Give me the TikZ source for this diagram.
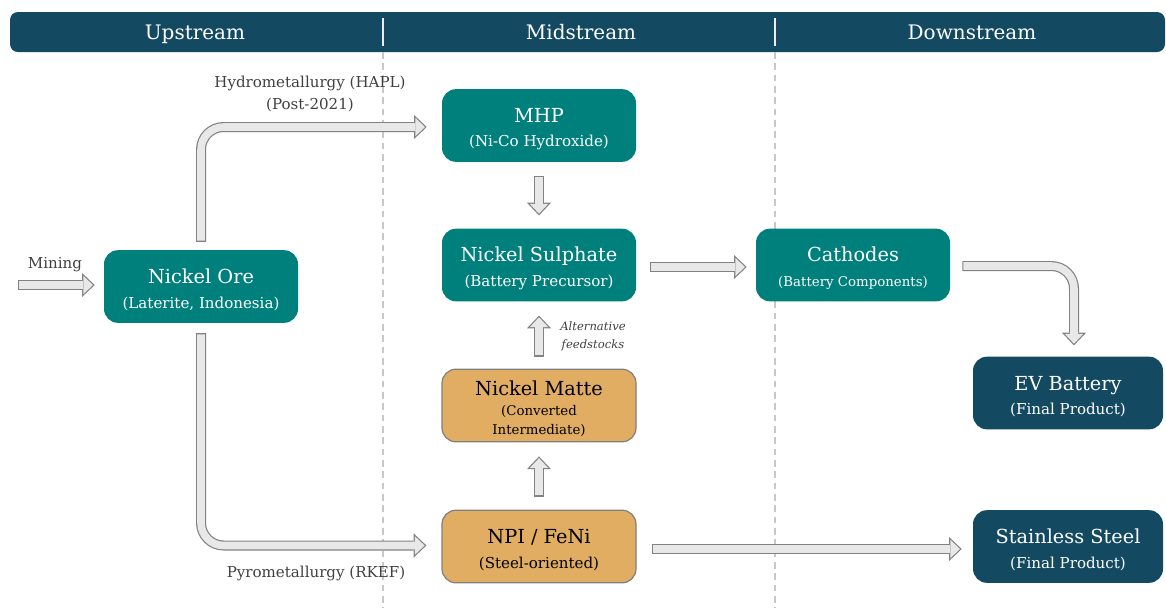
\documentclass[tikz,border=0pt]{standalone}
\usepackage{fontspec}
\setmainfont{DejaVu Serif}
\usetikzlibrary{arrows.meta,calc}

\definecolor{hdrblue}{RGB}{19,74,98}
\definecolor{boxteal}{RGB}{0,128,124}
\definecolor{boxtan}{RGB}{224,173,98}
\definecolor{tanedge}{RGB}{128,128,128}
\definecolor{flowfill}{RGB}{232,232,232}
\definecolor{flowedge}{RGB}{130,130,130}
\definecolor{lblgray}{RGB}{64,64,64}
\definecolor{sepgray}{RGB}{200,200,200}

\newcommand\hdrfont{\fontsize{15}{17}\selectfont}
\newcommand\nodetitle{\fontsize{14.5}{17}\selectfont\rule{0pt}{16pt}}
\newcommand\nodesub{\fontsize{11.3}{14}\selectfont}
\newcommand\nodesmall{\fontsize{10}{12.5}\selectfont}

\begin{document}
\begin{tikzpicture}[x=0.75pt,y=-0.75pt,
  stage/.style={rounded corners=10.5pt, minimum width=145.5pt, minimum height=54.5pt,
    align=center, inner sep=2pt},
  midbox/.style={stage, fill=boxteal, text=white},
  tanbox/.style={stage, fill=boxtan, draw=tanedge, line width=0.9pt, text=black},
  endbox/.style={stage, fill=hdrblue, text=white},
  flow/.style={draw=flowfill, line width=5.7pt, rounded corners=17pt,
    shorten <=0.9pt, shorten >=1.3pt,
    -{Triangle[length=7.3pt, width=13.8pt, line width=0pt]},
    preaction={draw=flowedge, line width=7.5pt, shorten <=0pt, shorten >=0pt,
      -{Triangle[length=9.5pt, width=18pt, line width=0pt]}}},
  lbl/.style={text=lblgray, font=\nodesub, align=center}]
\useasboundingbox (0,0) rectangle (1166,608);

% header band
\fill[hdrblue, rounded corners=6pt] (10,12) rectangle (1165,52);
\draw[white!85!gray, line width=1.1pt] (383,18) -- (383,46);
\draw[white!85!gray, line width=1.1pt] (775,18) -- (775,46);
\node[text=white, font=\hdrfont, anchor=base] at (195,39) {Upstream};
\node[text=white, font=\hdrfont, anchor=base] at (581,39) {Midstream};
\node[text=white, font=\hdrfont, anchor=base] at (972,39) {Downstream};

% column separators
\draw[sepgray, line width=0.9pt, dash pattern=on 5pt off 3.5pt] (383,52) -- (383,608);
\draw[sepgray, line width=0.9pt, dash pattern=on 5pt off 3.5pt] (775,52) -- (775,608);

% boxes
\node[midbox] (ore) at (201,286.5) {\nodetitle Nickel Ore\\[6.5pt]\nodesub (Laterite, Indonesia)};
\node[midbox] (mhp) at (539,125.5) {\nodetitle MHP\\[6.5pt]\nodesub (Ni-Co Hydroxide)};
\node[midbox] (sulph) at (539,265) {\nodetitle Nickel Sulphate\\[6.5pt]\nodesub (Battery Precursor)};
\node[tanbox] (matte) at (539,405.5) {\nodetitle Nickel Matte\\[3pt]\nodesmall (Converted\\[2.5pt]\nodesmall Intermediate)};
\node[tanbox] (npi) at (539,546.5) {\nodetitle NPI / FeNi\\[6.5pt]\nodesub (Steel-oriented)};
\node[midbox] (cath) at (853,265) {\nodetitle Cathodes\\[6.5pt]\nodesmall (Battery Components)};
\node[endbox, minimum width=142.5pt] (ev) at (1068,393) {\nodetitle EV Battery\\[6.5pt]\nodesub (Final Product)};
\node[endbox, minimum width=142.5pt] (steel) at (1068,546.5) {\nodetitle Stainless Steel\\[6.5pt]\nodesub (Final Product)};

% flows
\coordinate (mine) at (18,285);
\draw[flow] (mine) -- ($(ore.west)+(-9,-1.5)$);
\draw[flow] ($(ore.north)+(0,-8)$) |- ($(mhp.west)+(-15,1.5)$);
\draw[flow] ($(ore.south)+(0,10)$) |- ($(npi.west)+(-15,-1)$);
\draw[flow] ($(mhp.south)+(0,14)$) -- ($(sulph.north)+(0,-13)$);
\draw[flow] ($(matte.north)+(0,-12)$) -- ($(sulph.south)+(0,14)$);
\draw[flow] ($(npi.north)+(0,-13)$) -- ($(matte.south)+(0,14)$);
\draw[flow] ($(sulph.east)+(14,2)$) -- ($(cath.west)+(-9,2)$);
\draw[flow] ($(cath.east)+(12,1)$) -| ($(ev.north)+(6,-11)$);
\draw[flow] ($(npi.east)+(15,2.5)$) -- ($(steel.west)+(-11,2.5)$);

% labels
\node[lbl] (lmine) at (55,265) {Mining};
\node[lbl, font=\fontsize{11.3}{16.5}\selectfont] (lhydro) at (310,94) {Hydrometallurgy (HAPL)\\(Post-2021)};
\node[lbl] (lpyro) at (316,573) {Pyrometallurgy (RKEF)};
\node[lbl, font=\fontsize{8.7}{13.5}\selectfont\itshape] (lalt) at (593,336) {Alternative\\feedstocks};
\end{tikzpicture}
\end{document}
